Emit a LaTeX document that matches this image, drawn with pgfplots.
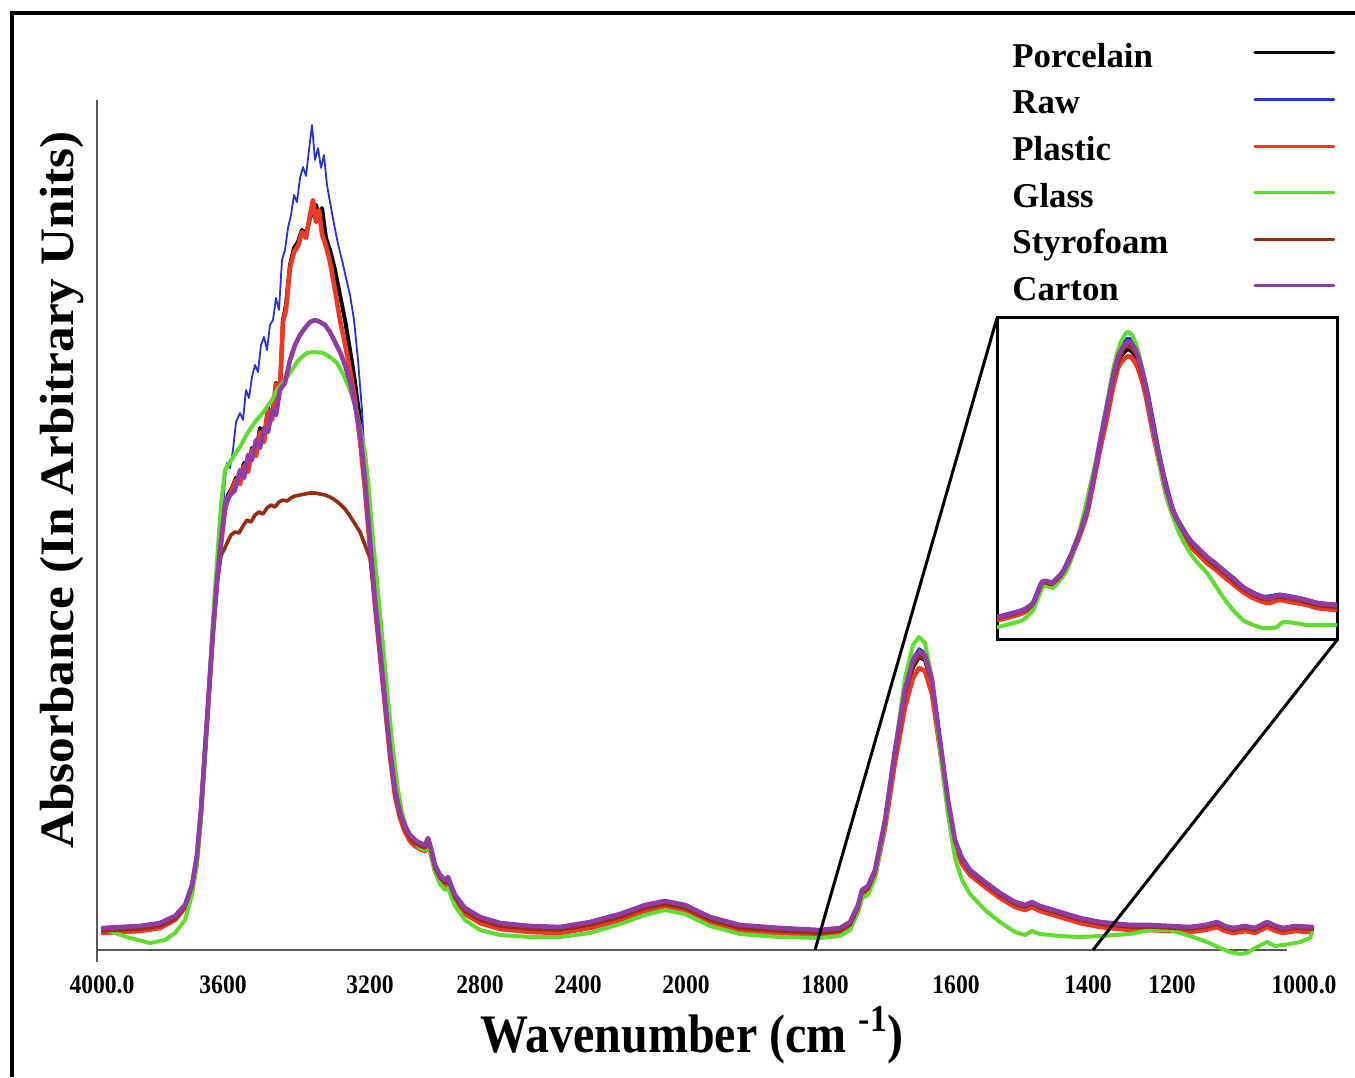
\documentclass[border=0pt]{standalone}
\usepackage{fontspec}
\setmainfont{Liberation Serif}
\usepackage{pgfplots}
\pgfplotsset{compat=1.18}

\definecolor{cPorc}{RGB}{0,0,0}
\definecolor{cRaw}{RGB}{40,50,215}
\definecolor{cPlas}{RGB}{238,58,36}
\definecolor{cGlass}{RGB}{95,220,45}
\definecolor{cStyro}{RGB}{150,45,20}
\definecolor{cCart}{RGB}{145,60,165}

% x is the horizontal position on the (non-linear) wavenumber axis, y the absorbance height
\pgfplotstableread{
x y
103 22
120 23
140 24
160 27
175 34
185 45
192 65
197 95
201 140
205 200
209 260
213 320
217 370
221 410
225 445
230 455
235 460
240 480
244 472
248 495
252 490
256 510
260 502
264 522
268 518
272 540
276 535
280 560
285 567
290 590
295 605
300 615
305 622
310 628
315 630
320 628
325 625
330 618
335 608
340 598
345 585
350 568
355 545
360 518
365 470
370 410
375 350
380 300
385 250
390 200
395 160
400 138
405 124
410 115
415 110
420 107
425 105
428 112
431 102
435 85
440 75
445 70
448 73
451 65
455 55
465 42
480 33
500 27
530 24
560 23
590 28
620 36
645 45
665 49
685 45
710 33
740 25
780 22
820 20
840 22
850 28
858 45
862 60
868 64
875 80
885 130
895 200
905 260
913 290
919 298
925 295
932 270
940 210
948 150
955 110
962 92
970 80
985 68
1000 57
1015 48
1025 45
1032 48
1040 44
1060 38
1080 32
1100 28
1130 25
1150 25
1170 24
1190 23
1205 25
1217 28
1225 24
1233 22
1245 24
1255 22
1267 28
1276 24
1283 22
1295 24
1312 23
}\carton

\begin{document}
\begin{tikzpicture}
\begin{axis}[
  at={(0,0)}, anchor=south west,
  scale only axis, width=595pt, height=425pt,
  xmin=97, xmax=1287, ymin=0, ymax=850,
  enlargelimits=false, clip=false,
  axis lines=left,
  axis line style={-, line width=1pt, color=black!65},
  ytick=\empty,
  xtick={97,223,370,480,578,686,825,956,1088,1172,1287},
  xticklabels={\hspace*{5pt}4000.0,3600,3200,2800,2400,2000,1800,1600,1400,1200,\hspace*{17pt}1000.0},
  major tick length=0pt,
  xticklabel style={font=\bfseries\fontsize{11.8}{12}\selectfont, anchor=base, inner sep=0pt, yshift=-21.5pt, yscale=1.13},
  xlabel={Wavenumber (cm \textsuperscript{-1})},
  xlabel style={at={(axis description cs:0.5,-0.12)}, anchor=base, inner sep=0pt, font=\bfseries\fontsize{24}{26}\selectfont, yscale=1.13},
  ylabel={Absorbance (In Arbitrary Units)},
  ylabel style={at={(axis description cs:-0.0294,0.541)}, anchor=center, inner sep=0pt, font=\bfseries\fontsize{24}{26}\selectfont, xscale=1.07},
  legend cell align=left, legend plot pos=right,
  legend style={at={(axis description cs:0.7639,1.073)}, anchor=north west, draw=none, fill=none,
    font=\bfseries\fontsize{17.4}{20}\selectfont, row sep=6.8pt, column sep=42.5pt,
    nodes={inner sep=0pt, text height=12.5pt, text depth=4pt}},
  legend image code/.code={\draw[line width=1.5pt] (0pt,3pt) -- (39.5pt,3pt);},
  every axis plot/.append style={line join=round, line cap=round},
]
\addplot[cPorc, line width=2pt] coordinates {
(103,20) (120,21) (140,22) (160,25) (175,32) (185,44) (192,64) (197,94) (201,139) (205,199) (209,259) (213,319) (217,369) (221,407) (225,442) (228,455) (232,462) (236,472) (240,470) (244,487) (248,480) (252,502) (256,497) (260,522) (264,512) (268,542) (272,532) (276,567) (280,562) (283,630) (286,645) (290,685) (294,702) (298,708) (302,720) (306,716) (310,732) (313,738) (316,745) (319,734) (322,742) (326,712) (330,700) (335,680) (340,655) (345,630) (350,600) (355,568) (360,530) (365,475) (370,410) (375,349) (380,298) (385,248) (390,198) (395,158) (400,136) (405,122) (410,113) (415,108) (420,105) (425,103) (428,110) (431,100) (435,83) (440,73) (445,68) (448,71) (451,63) (455,53) (465,40) (480,31) (500,25) (530,22) (560,21) (590,26) (620,34) (645,43) (665,47) (685,43) (710,31) (740,23) (780,20) (820,18) (840,20) (850,26) (858,43) (862,58) (868,62) (875,78) (885,128) (895,196) (905,252) (913,283) (919,293) (925,290) (932,266) (940,207) (948,148) (955,108) (962,90) (970,78) (985,66) (1000,55) (1015,46) (1025,43) (1032,46) (1040,42) (1060,36) (1080,30) (1100,26) (1130,23) (1150,23) (1170,22) (1190,21) (1205,23) (1217,26) (1225,22) (1233,20) (1245,22) (1255,20) (1267,26) (1276,22) (1283,20) (1295,22) (1312,21)
};
\addlegendentry{Porcelain}
\addplot[cRaw, line width=0.9pt] coordinates {
(103,21) (120,22) (140,23) (160,26) (175,33) (185,44) (192,64) (197,94) (201,139) (205,199) (209,259) (213,319) (217,369) (221,410) (225,470) (227,487) (230,482) (233,500) (236,528) (240,537) (243,530) (246,560) (249,552) (252,573) (255,585) (258,578) (261,605) (264,613) (267,600) (270,625) (273,630) (276,652) (279,640) (282,690) (285,700) (288,722) (291,735) (294,755) (297,748) (300,772) (303,783) (306,774) (309,800) (312,825) (315,790) (318,802) (321,782) (324,795) (327,765) (330,748) (334,726) (338,706) (342,690) (346,672) (350,655) (354,630) (358,590) (362,540) (366,470) (370,409) (375,349) (380,299) (385,249) (390,199) (395,159) (400,137) (405,123) (410,114) (415,109) (420,106) (425,104) (428,111) (431,101) (435,84) (440,74) (445,69) (448,72) (451,64) (455,54) (465,41) (480,32) (500,26) (530,23) (560,22) (590,27) (620,35) (645,44) (665,48) (685,44) (710,32) (740,24) (780,21) (820,19) (840,21) (850,27) (858,44) (862,59) (868,63) (875,79) (885,130) (895,200) (905,262) (913,293) (919,302) (925,298) (932,272) (940,210) (948,150) (955,110) (962,91) (970,79) (985,67) (1000,56) (1015,47) (1025,44) (1032,47) (1040,43) (1060,37) (1080,31) (1100,27) (1130,24) (1150,24) (1170,23) (1190,22) (1205,24) (1217,27) (1225,23) (1233,21) (1245,23) (1255,21) (1267,27) (1276,23) (1283,21) (1295,23) (1312,22)
};
\addlegendentry{Raw}
\addplot[cPlas, line width=2.3pt] coordinates {
(103,17) (120,18) (140,19) (160,22) (175,30) (185,42) (192,62) (197,92) (201,138) (205,198) (209,258) (213,318) (217,368) (221,405) (225,440) (228,452) (232,460) (236,470) (240,466) (244,484) (248,478) (252,500) (256,494) (260,518) (264,508) (268,540) (272,530) (276,566) (280,560) (283,628) (286,640) (290,682) (294,698) (298,704) (302,718) (306,712) (310,735) (313,750) (316,728) (319,740) (322,716) (326,704) (330,688) (335,660) (340,630) (345,606) (350,580) (355,550) (360,510) (365,460) (370,402) (375,344) (380,294) (385,244) (390,194) (395,154) (400,132) (405,118) (410,109) (415,104) (420,101) (425,99) (428,106) (431,96) (435,79) (440,69) (445,64) (448,67) (451,59) (455,49) (465,36) (480,27) (500,21) (530,18) (560,17) (590,22) (620,30) (645,39) (665,43) (685,39) (710,27) (740,19) (780,16) (820,14) (840,16) (850,22) (858,39) (862,54) (868,58) (875,74) (885,122) (895,188) (905,243) (913,272) (919,282) (925,279) (932,256) (940,200) (948,143) (955,104) (962,86) (970,75) (985,63) (1000,52) (1015,43) (1025,40) (1032,43) (1040,39) (1060,33) (1080,27) (1100,23) (1130,20) (1150,20) (1170,19) (1190,18) (1205,20) (1217,23) (1225,19) (1233,17) (1245,19) (1255,17) (1267,23) (1276,19) (1283,17) (1295,19) (1312,18)
};
\addlegendentry{Plastic}
\addplot[cGlass, line width=2pt] coordinates {
(103,21) (115,17) (130,12) (150,7) (165,10) (175,17) (185,30) (192,55) (197,85) (201,130) (205,195) (209,262) (213,330) (217,390) (221,445) (225,480) (230,488) (235,496) (240,503) (247,516) (255,528) (261,535) (267,543) (272,550) (277,560) (282,566) (287,573) (292,580) (297,588) (302,593) (307,597) (315,598) (323,597) (330,593) (337,587) (343,576) (350,560) (355,545) (360,523) (365,497) (368,470) (373,410) (378,358) (383,305) (388,250) (393,200) (398,160) (403,133) (408,118) (413,110) (420,102) (425,100) (428,106) (431,95) (435,78) (440,66) (445,60) (448,62) (451,54) (455,44) (465,30) (480,20) (500,15) (530,13) (560,13) (590,17) (620,26) (645,35) (665,40) (685,36) (710,24) (740,16) (780,13) (820,12) (840,14) (850,20) (858,38) (862,52) (868,55) (875,72) (885,125) (895,200) (905,272) (913,305) (919,313) (925,307) (932,272) (940,200) (948,135) (955,92) (962,70) (970,56) (985,40) (1000,28) (1015,18) (1025,15) (1032,19) (1040,16) (1060,14) (1080,13) (1100,14) (1130,16) (1150,20) (1170,20) (1190,14) (1207,8) (1220,2) (1230,-2) (1240,-4) (1247,-3) (1255,2) (1267,8) (1275,4) (1290,6) (1300,8) (1310,12) (1312,17)
};
\addlegendentry{Glass}
\addplot[cStyro, line width=1.8pt] coordinates {
(103,19) (120,20) (140,21) (160,24) (175,31) (185,43) (192,63) (197,93) (201,138) (205,198) (209,258) (213,318) (217,365) (221,395) (224,400) (227,407) (231,415) (235,418) (239,417) (243,424) (247,430) (251,428) (255,435) (259,438) (263,436) (267,442) (271,445) (275,443) (279,448) (283,450) (287,449) (291,452) (295,454) (300,455) (305,456) (310,457) (315,457) (320,456) (325,455) (330,453) (335,450) (340,446) (345,441) (350,434) (355,426) (360,418) (365,405) (370,392) (375,350) (380,297) (385,247) (390,197) (395,157) (400,135) (405,121) (410,112) (415,107) (420,104) (425,102) (428,109) (431,99) (435,82) (440,72) (445,67) (448,70) (451,62) (455,52) (465,39) (480,30) (500,24) (530,21) (560,20) (590,25) (620,33) (645,42) (665,46) (685,42) (710,30) (740,22) (780,19) (820,17) (840,19) (850,25) (858,42) (862,57) (868,61) (875,77) (885,127) (895,195) (905,255) (913,285) (919,294) (925,291) (932,267) (940,208) (948,148) (955,108) (962,90) (970,78) (985,66) (1000,55) (1015,46) (1025,43) (1032,46) (1040,42) (1060,36) (1080,30) (1100,26) (1130,23) (1150,23) (1170,22) (1190,21) (1205,23) (1217,26) (1225,22) (1233,20) (1245,22) (1255,20) (1267,26) (1276,22) (1283,20) (1295,22) (1312,21)
};
\addlegendentry{Styrofoam}
\addplot[cCart, line width=2.3pt] table[x=x, y=y] {\carton};
\addlegendentry{Carton}
% zoom guide lines and the y axis stub below the x axis
\draw[line width=1.5pt] (axis cs:997,632) -- (axis cs:815,0);
\draw[line width=1.5pt] (axis cs:1337,310) -- (axis cs:1093,0);
\draw[line width=1pt, black!65] (axis cs:97,0) -- (axis cs:97,-12);
\end{axis}

% inset: close-up of the peak near 1640
\begin{axis}[
  at={(450pt,155pt)}, anchor=south west,
  scale only axis, width=170pt, height=161pt,
  xmin=997, xmax=1337, ymin=0, ymax=322,
  enlargelimits=false,
  axis line style={line width=1.5pt},
  xtick=\empty, ytick=\empty,
  every axis plot/.append style={line join=round, line cap=round, smooth, tension=0.4},
]
\addplot[cPorc, line width=2.3pt] coordinates {
(998,22) (1010,25) (1023,29) (1033,36) (1038,47) (1042,57) (1047,58) (1052,56) (1057,61) (1062,66) (1068,76) (1073,89) (1080,107) (1087,129) (1093,158) (1100,195) (1107,229) (1113,258) (1118,278) (1123,287) (1128,291) (1132,289) (1137,281) (1142,266) (1147,244) (1153,211) (1160,178) (1166,150) (1173,128) (1180,113) (1190,98) (1198,90) (1207,81) (1215,75) (1223,68) (1233,60) (1243,51) (1253,45) (1263,41) (1270,40) (1275,42) (1280,43) (1290,41) (1297,40) (1307,38) (1317,35) (1326,34) (1336,33)
};
\addplot[cRaw, line width=2.3pt] coordinates {
(998,23) (1023,30) (1033,37) (1042,58) (1052,57) (1062,67) (1073,90) (1087,130) (1100,198) (1113,266) (1118,288) (1123,297) (1128,301) (1132,299) (1137,290) (1147,249) (1160,181) (1173,130) (1190,100) (1207,83) (1223,70) (1243,53) (1263,43) (1280,45) (1297,42) (1317,37) (1336,35)
};
\addplot[cPlas, line width=2.3pt] coordinates {
(998,20) (1010,23) (1023,27) (1033,34) (1038,45) (1042,55) (1047,56) (1052,54) (1057,59) (1062,64) (1068,74) (1073,87) (1080,105) (1087,126) (1093,155) (1100,190) (1107,222) (1113,252) (1118,272) (1123,280) (1128,284) (1132,282) (1137,274) (1142,259) (1147,238) (1153,206) (1160,174) (1166,146) (1173,124) (1180,109) (1190,94) (1198,86) (1207,77) (1215,71) (1223,64) (1233,56) (1243,48) (1253,42) (1263,38) (1270,37) (1275,39) (1280,40) (1290,38) (1297,37) (1307,35) (1317,32) (1326,31) (1336,30)
};
\addplot[cGlass, line width=2pt] coordinates {
(998,13) (1010,16) (1023,20) (1033,30) (1038,42) (1043,53) (1048,54) (1053,52) (1060,60) (1067,70) (1075,93) (1083,123) (1091,158) (1100,197) (1107,236) (1113,270) (1120,296) (1127,308) (1132,305) (1137,293) (1142,272) (1147,247) (1153,210) (1160,173) (1166,145) (1173,123) (1180,105) (1190,87) (1198,77) (1207,67) (1215,55) (1223,43) (1233,30) (1243,20) (1253,15) (1263,12) (1270,12) (1277,13) (1283,18) (1295,17) (1307,15) (1320,15) (1336,15)
};
\addplot[cStyro, line width=2pt] coordinates {
(998,22) (1023,29) (1033,36) (1042,57) (1052,56) (1062,66) (1073,89) (1087,129) (1100,195) (1113,260) (1123,290) (1128,294) (1137,284) (1147,245) (1160,178) (1173,128) (1190,98) (1207,81) (1223,68) (1243,51) (1263,41) (1280,43) (1297,40) (1317,35) (1336,33)
};
\addplot[cCart, line width=2.3pt] coordinates {
(998,23) (1010,26) (1023,30) (1033,37) (1038,48) (1042,58) (1047,59) (1052,57) (1057,62) (1062,67) (1068,77) (1073,90) (1080,108) (1087,130) (1093,160) (1100,197) (1107,233) (1113,263) (1118,283) (1123,293) (1128,298) (1132,296) (1137,287) (1142,270) (1147,247) (1153,213) (1160,180) (1166,152) (1173,130) (1180,115) (1190,100) (1198,92) (1207,83) (1215,77) (1223,70) (1233,62) (1243,53) (1253,47) (1263,43) (1270,42) (1275,44) (1280,45) (1290,43) (1297,42) (1307,40) (1317,37) (1326,36) (1336,35)
};
\end{axis}

% outer frame and page size, in pixels of the reference
\begin{scope}[shift={(-48.5pt,475pt)}, x=0.5pt, y=-0.5pt]
\draw[line width=1.6pt] (12,1077) -- (12,13) -- (1355,13);
\pgfresetboundingbox
\useasboundingbox (0,0) rectangle (1355,1077);
\end{scope}
\end{tikzpicture}
\end{document}
